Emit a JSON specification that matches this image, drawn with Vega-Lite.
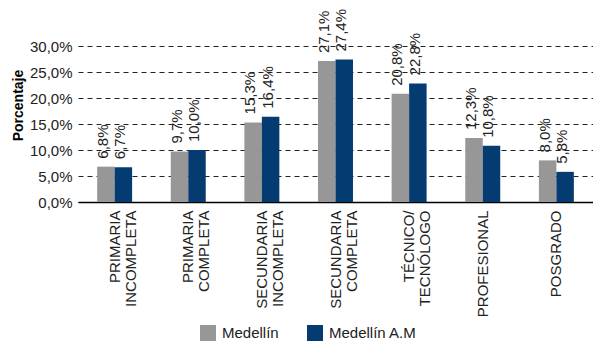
{
  "$schema": "https://vega.github.io/schema/vega-lite/v6.json",
  "width": 515,
  "height": 156,
  "autosize": "none",
  "padding": {"left": 78, "top": 46, "right": 0, "bottom": 140},
  "config": {
    "locale": {"number": {"decimal": ",", "thousands": ".", "grouping": [3], "currency": ["$", ""]}},
    "view": {"stroke": null},
    "font": "Liberation Sans"
  },
  "data": {
    "values": [
      {"nivel": "PRIMARIA INCOMPLETA", "serie": "Medellín", "valor": 0.068},
      {"nivel": "PRIMARIA INCOMPLETA", "serie": "Medellín A.M", "valor": 0.067},
      {"nivel": "PRIMARIA COMPLETA", "serie": "Medellín", "valor": 0.097},
      {"nivel": "PRIMARIA COMPLETA", "serie": "Medellín A.M", "valor": 0.100},
      {"nivel": "SECUNDARIA INCOMPLETA", "serie": "Medellín", "valor": 0.153},
      {"nivel": "SECUNDARIA INCOMPLETA", "serie": "Medellín A.M", "valor": 0.164},
      {"nivel": "SECUNDARIA COMPLETA", "serie": "Medellín", "valor": 0.271},
      {"nivel": "SECUNDARIA COMPLETA", "serie": "Medellín A.M", "valor": 0.274},
      {"nivel": "TÉCNICO/ TECNÓLOGO", "serie": "Medellín", "valor": 0.208},
      {"nivel": "TÉCNICO/ TECNÓLOGO", "serie": "Medellín A.M", "valor": 0.228},
      {"nivel": "PROFESIONAL", "serie": "Medellín", "valor": 0.123},
      {"nivel": "PROFESIONAL", "serie": "Medellín A.M", "valor": 0.108},
      {"nivel": "POSGRADO", "serie": "Medellín", "valor": 0.080},
      {"nivel": "POSGRADO", "serie": "Medellín A.M", "valor": 0.058}
    ]
  },
  "encoding": {
    "x": {
      "field": "nivel",
      "type": "nominal",
      "sort": null,
      "scale": {"paddingInner": 0.525, "paddingOuter": 0.26},
      "axis": {
        "title": null,
        "labelAngle": -90,
        "labelAlign": "right",
        "labelBaseline": "middle",
        "labelExpr": "split(datum.value, ' ')",
        "labelLineHeight": 16,
        "labelFont": "Liberation Sans",
        "labelFontSize": 15,
        "labelColor": "#222222",
        "labelPadding": 8,
        "ticks": false,
        "domainColor": "#000000",
        "domainWidth": 1.5,
        "grid": false
      }
    },
    "xOffset": {"field": "serie", "type": "nominal", "sort": ["Medellín", "Medellín A.M"]},
    "y": {
      "field": "valor",
      "type": "quantitative",
      "scale": {"domain": [0, 0.3], "nice": false},
      "axis": {
        "title": "Porcentaje",
        "titleFont": "Liberation Sans",
        "titleFontWeight": "bold",
        "titleFontSize": 14,
        "titleColor": "#000000",
        "titlePadding": 4,
        "titleY": 59,
        "values": [0, 0.05, 0.1, 0.15, 0.2, 0.25, 0.3],
        "format": ".1%",
        "labelFont": "Liberation Sans",
        "labelFontSize": 15,
        "labelColor": "#222222",
        "labelPadding": 6,
        "domain": false,
        "ticks": false,
        "grid": true,
        "gridDash": [5, 4],
        "gridColor": "#222222",
        "gridWidth": 1
      }
    }
  },
  "layer": [
    {
      "mark": {"type": "bar"},
      "encoding": {
        "color": {
          "field": "serie",
          "type": "nominal",
          "sort": ["Medellín", "Medellín A.M"],
          "scale": {"domain": ["Medellín", "Medellín A.M"], "range": ["#979797", "#043c72"]},
          "legend": {
            "title": null,
            "orient": "none",
            "legendX": 122,
            "legendY": 279,
            "direction": "horizontal",
            "symbolType": "square",
            "symbolSize": 256,
            "symbolStrokeWidth": 0,
            "symbolOpacity": 1,
            "labelFont": "Liberation Sans",
            "labelFontSize": 15,
            "labelColor": "#222222",
            "labelOffset": 6,
            "columnPadding": 28
          }
        }
      }
    },
    {
      "mark": {
        "type": "text",
        "angle": -90,
        "align": "left",
        "baseline": "middle",
        "dx": 8,
        "dy": -3,
        "font": "Liberation Sans",
        "fontSize": 15,
        "color": "#222222",
        "clip": false
      },
      "encoding": {
        "text": {"field": "valor", "type": "quantitative", "format": ".1%"}
      }
    }
  ]
}
